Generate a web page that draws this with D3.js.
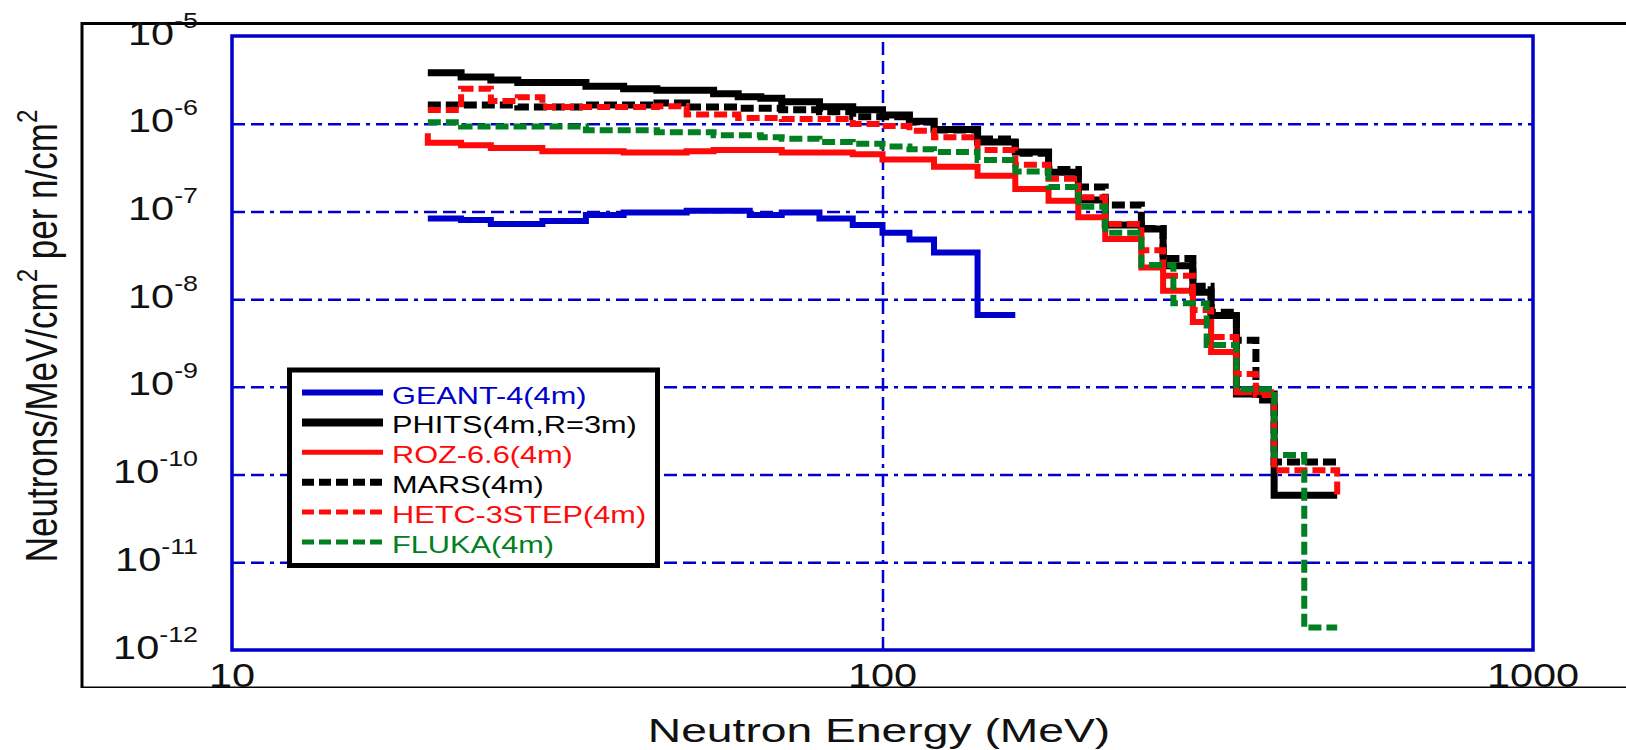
<!DOCTYPE html>
<html>
<head>
<meta charset="utf-8">
<script src="https://cdn.jsdelivr.net/npm/d3@7"></script>
<style>
  body { margin: 0; background: #fff; }
  svg { display: block; font-family: "Liberation Sans", Arial, Helvetica, sans-serif; }
</style>
</head>
<body>
<svg id="chart" width="1626" height="750"></svg>
<script>
// ---- data (bin edges in MeV, one value per bin) ----
const geantE = [20, 22.5, 25, 30, 35, 40, 50, 62.5, 70, 80, 90, 100, 110, 120, 140, 160];
const geantV = [8.3e-8, 8.0e-8, 7.2e-8, 7.8e-8, 9.1e-8, 9.7e-8, 1.02e-7, 9.1e-8, 9.7e-8, 8.3e-8,
                7.0e-8, 5.7e-8, 4.8e-8, 3.4e-8, 6.6e-9];

const phitsE = [20, 22.5, 25, 27.5, 35, 40, 45, 55, 60, 65, 70, 80, 90, 100, 110, 120, 140, 160,
                180, 200, 220, 250, 270, 300, 320, 350, 400, 500];
const phitsV = [3.8e-6, 3.4e-6, 3.15e-6, 2.95e-6, 2.67e-6, 2.5e-6, 2.4e-6, 2.2e-6, 2.03e-6, 1.95e-6,
                1.78e-6, 1.56e-6, 1.44e-6, 1.26e-6, 1.07e-6, 8.6e-7, 6.2e-7, 4.75e-7, 2.8e-7, 1.35e-7,
                7.0e-8, 6.3e-8, 2.4e-8, 1.2e-8, 6.5e-9, 8.3e-10, 5.8e-11];

const rozE = [20, 20, 22.5, 25, 30, 40, 50, 55, 70, 90, 100, 120, 140, 160, 180, 200, 220, 250,
              270, 300, 320, 350, 400];
const rozV = [7.8e-7, 6.07e-7, 5.7e-7, 5.3e-7, 4.85e-7, 4.7e-7, 4.85e-7, 5.0e-7, 4.7e-7, 4.5e-7,
              3.9e-7, 3.24e-7, 2.55e-7, 1.8e-7, 1.32e-7, 8.6e-8, 4.85e-8, 2.3e-8, 1.25e-8, 5.5e-9,
              2.5e-9, 8.7e-10];

const marsE = [20, 27.5, 35, 45, 50, 60, 70, 80, 90, 110, 120, 140, 160, 180, 200, 220, 250, 270,
               300, 320, 350, 375, 400, 500];
const marsV = [1.63e-6, 1.55e-6, 1.63e-6, 1.72e-6, 1.55e-6, 1.5e-6, 1.44e-6, 1.37e-6, 1.2e-6, 1.05e-6,
               8.5e-7, 6.7e-7, 4.6e-7, 3.0e-7, 1.9e-7, 1.18e-7, 6.4e-8, 2.9e-8, 1.4e-8, 7.1e-9,
               3.4e-9, 7.1e-10, 1.39e-10];

const hetcE = [20, 22.5, 25, 27.5, 30, 45, 50, 60, 70, 90, 100, 110, 120, 140, 160, 180, 200, 220,
               250, 270, 300, 320, 350, 375, 400, 500, 500];
const hetcV = [1.43e-6, 2.5e-6, 1.82e-6, 2.0e-6, 1.55e-6, 1.58e-6, 1.27e-6, 1.16e-6, 1.13e-6, 9.9e-7,
               9.4e-7, 8.3e-7, 7.0e-7, 5.0e-7, 3.4e-7, 2.36e-7, 1.45e-7, 7.2e-8, 3.6e-8, 1.85e-8,
               7.5e-9, 3.7e-9, 1.4e-9, 8.1e-10, 1.12e-10, 5.5e-11];

const flukaE = [20, 22.5, 35, 45, 55, 65, 70, 80, 90, 100, 110, 120, 140, 160, 180, 200, 220, 250,
                280, 315, 350, 400, 445, 500];
const flukaV = [1.04e-6, 9.3e-7, 8.4e-7, 8.0e-7, 7.4e-7, 7.0e-7, 6.75e-7, 6.2e-7, 5.9e-7, 5.5e-7,
                5.1e-7, 4.75e-7, 3.85e-7, 2.86e-7, 1.9e-7, 1.13e-7, 5.7e-8, 2.45e-8, 9.0e-9, 3.0e-9,
                9.4e-10, 1.67e-10, 1.8e-12];

const seriesNames = ["GEANT-4(4m)", "PHITS(4m,R=3m)", "ROZ-6.6(4m)", "MARS(4m)", "HETC-3STEP(4m)", "FLUKA(4m)"];
const seriesEdges = [geantE, phitsE, rozE, marsE, hetcE, flukaE];
const seriesValues = [geantV, phitsV, rozV, marsV, hetcV, flukaV];

const xTicks = [10, 100, 1000];
const yTickExps = [-5, -6, -7, -8, -9, -10, -11, -12];
const gridX = [100];
const gridY = [1e-6, 1e-7, 1e-8, 1e-9, 1e-10, 1e-11];

// ---- styles ----
const blue = "#0000cc";
const styles = [
    { color: blue,      width: 6, dash: null,   legendWidth: 6 },
    { color: "#000",    width: 7, dash: null,   legendWidth: 8 },
    { color: "#ff0a0a", width: 6, dash: null,   legendWidth: 5 },
    { color: "#000",    width: 7, dash: "13,5", legendWidth: 7 },
    { color: "#ff0a0a", width: 6, dash: "13,5", legendWidth: 5 },
    { color: "#008020", width: 6, dash: "13,5", legendWidth: 5 }
];

const svg = d3.select("#chart");
const plot = { left: 232, right: 1533, top: 36, bottom: 650 };

const x = d3.scaleLog().domain([10, 1000]).range([plot.left, plot.right]);
const y = d3.scaleLog().domain([1e-12, 1e-5]).range([plot.bottom, plot.top]);

svg.append("rect").attr("width", 1626).attr("height", 750).attr("fill", "#fff");

// outer black frame (right side runs off the picture)
svg.append("line").attr("x1", 81).attr("x2", 1626).attr("y1", 23.5).attr("y2", 23.5)
    .attr("stroke", "#000").attr("stroke-width", 3);
svg.append("line").attr("x1", 82).attr("x2", 82).attr("y1", 22).attr("y2", 688)
    .attr("stroke", "#000").attr("stroke-width", 3);
svg.append("line").attr("x1", 81).attr("x2", 1626).attr("y1", 687.3).attr("y2", 687.3)
    .attr("stroke", "#000").attr("stroke-width", 1.4);

// grid
const gridDash = "13,6,13,6,4,6";

svg.append("g")
    .attr("transform", `translate(${plot.left},0)`)
    .call(d3.axisLeft(y).tickValues(gridY).tickSize(-(plot.right - plot.left)).tickFormat(""))
    .call(g => g.select(".domain").remove())
    .call(g => g.selectAll(".tick line")
        .attr("stroke", blue).attr("stroke-width", 2.5).attr("stroke-dasharray", gridDash));

svg.append("g")
    .attr("transform", `translate(0,${plot.bottom})`)
    .call(d3.axisBottom(x).tickValues(gridX).tickSize(-(plot.bottom - plot.top)).tickFormat(""))
    .call(g => g.select(".domain").remove())
    .call(g => g.selectAll(".tick line")
        .attr("stroke", blue).attr("stroke-width", 2.5).attr("stroke-dasharray", gridDash));

// blue plot frame
svg.append("rect")
    .attr("x", plot.left).attr("y", plot.top)
    .attr("width", plot.right - plot.left).attr("height", plot.bottom - plot.top)
    .attr("fill", "none").attr("stroke", blue).attr("stroke-width", 3.5);

// series as step histograms
const line = d3.line()
    .x(d => x(d[0]))
    .y(d => y(d[1]))
    .curve(d3.curveStepAfter);

function toPoints(edges, values)
{
    const pts = values.map((v, i) => [edges[i], v]);
    pts.push([edges[edges.length - 1], values[values.length - 1]]);
    return pts;
}

seriesNames.forEach((name, i) =>
{
    const s = styles[i];
    svg.append("path")
        .datum(toPoints(seriesEdges[i], seriesValues[i]))
        .attr("d", line)
        .attr("fill", "none")
        .attr("stroke", s.color)
        .attr("stroke-width", s.width)
        .attr("stroke-linejoin", "miter")
        .attr("stroke-linecap", "butt")
        .attr("stroke-dasharray", s.dash);
});

// tick labels
const tickColor = "#111";

yTickExps.forEach(e =>
{
    const t = svg.append("text")
        .attr("transform", `translate(198,${y(Math.pow(10, e)) + 8.5}) scale(1.22,1)`)
        .attr("text-anchor", "end")
        .attr("font-size", 34)
        .attr("fill", tickColor);
    t.append("tspan").text("10");
    t.append("tspan").attr("dy", -17).attr("font-size", 22).text(String(e));
});

xTicks.forEach(v =>
{
    svg.append("text")
        .attr("transform", `translate(${x(v)},687) scale(1.22,1)`)
        .attr("text-anchor", "middle")
        .attr("font-size", 34)
        .attr("fill", tickColor)
        .text(String(v));
});

// axis titles
svg.append("text")
    .attr("transform", "translate(879,742) scale(1.36,1)")
    .attr("text-anchor", "middle")
    .attr("font-size", 34)
    .attr("fill", tickColor)
    .text("Neutron Energy (MeV)");

const yTitle = svg.append("text")
    .attr("transform", "translate(57,336) scale(1.26,1) rotate(-90)")
    .attr("text-anchor", "middle")
    .attr("font-size", 35)
    .attr("fill", tickColor);
yTitle.append("tspan").text("Neutrons/MeV/cm");
yTitle.append("tspan").attr("dy", -16).attr("font-size", 24).text("2");
yTitle.append("tspan").attr("dy", 16).text(" per n/cm");
yTitle.append("tspan").attr("dy", -16).attr("font-size", 24).text("2");

// legend
const legend = svg.append("g");
legend.append("rect")
    .attr("x", 289.5).attr("y", 370)
    .attr("width", 368).attr("height", 195.5)
    .attr("fill", "#fff").attr("stroke", "#000").attr("stroke-width", 5);

seriesNames.forEach((name, i) =>
{
    const s = styles[i];
    const ly = 392.5 + i * 29.9;
    legend.append("line")
        .attr("x1", 302).attr("x2", 383)
        .attr("y1", ly).attr("y2", ly)
        .attr("stroke", s.color)
        .attr("stroke-width", s.legendWidth)
        .attr("stroke-dasharray", s.dash ? "12,5" : null);
    legend.append("text")
        .attr("transform", `translate(392,${ly + 11}) scale(1.28,1)`)
        .attr("font-size", 24)
        .attr("fill", s.color)
        .text(name);
});
</script>
</body>
</html>
